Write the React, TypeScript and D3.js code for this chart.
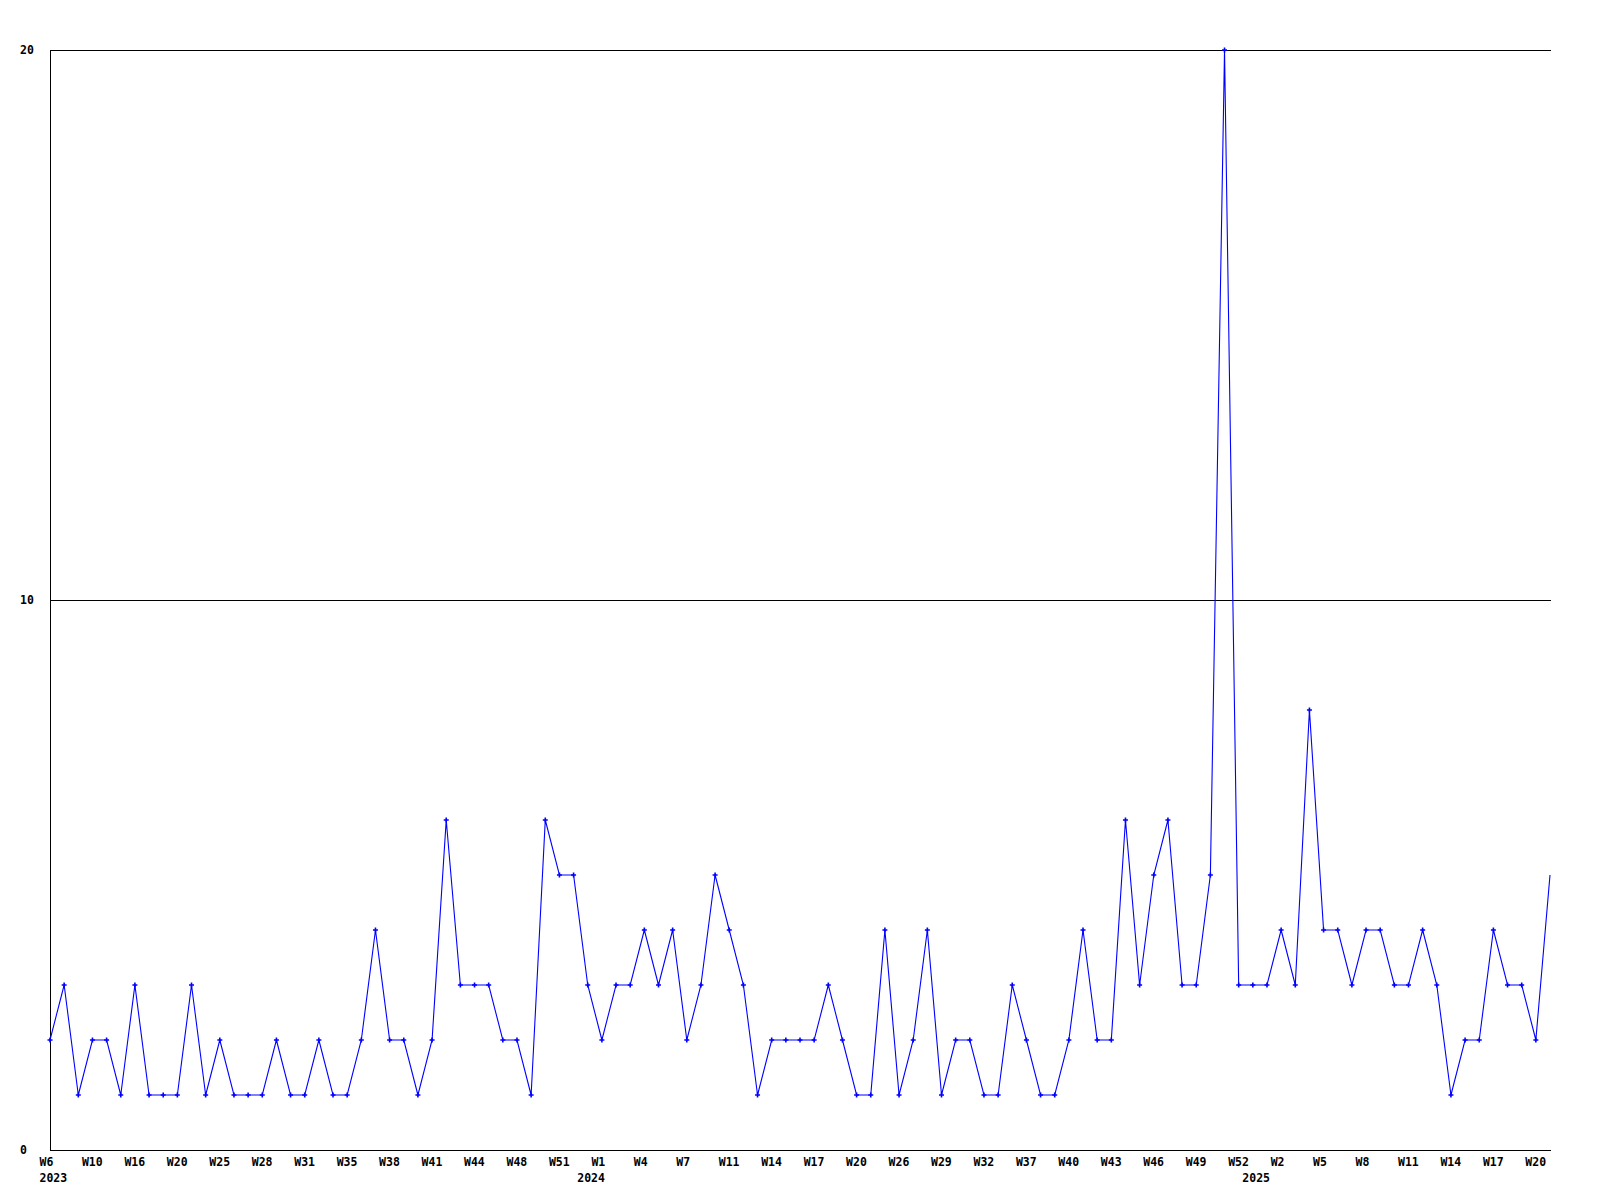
import React from "react";
import * as d3 from "d3";

const values: number[] = [
  2, 3, 1, 2, 2, 1, 3, 1, 1, 1,
  3, 1, 2, 1, 1, 1, 2, 1, 1, 2,
  1, 1, 2, 4, 2, 2, 1, 2, 6, 3,
  3, 3, 2, 2, 1, 6, 5, 5, 3, 2,
  3, 3, 4, 3, 4, 2, 3, 5, 4, 3,
  1, 2, 2, 2, 2, 3, 2, 1, 1, 4,
  1, 2, 4, 1, 2, 2, 1, 1, 3, 2,
  1, 1, 2, 4, 2, 2, 6, 3, 5, 6,
  3, 3, 5, 20, 3, 3, 3, 4, 3, 8,
  4, 4, 3, 4, 4, 3, 3, 4, 3, 1,
  2, 2, 4, 3, 3, 2, 5,
];

// week labels, one every 3 points
const weekLabels: string[] = [
  "W6", "W10", "W16", "W20", "W25", "W28", "W31", "W35", "W38", "W41",
  "W44", "W48", "W51", "W1", "W4", "W7", "W11", "W14", "W17", "W20",
  "W26", "W29", "W32", "W37", "W40", "W43", "W46", "W49", "W52", "W2",
  "W5", "W8", "W11", "W14", "W17", "W20",
];
const weekLabelStep = 3;

const yearLabels: string[] = ["2023", "2024", "2025"];
const yearLabelIndex: number[] = [0, 38, 85];

const yTicks: number[] = [0, 10, 20];

const FONT = "'DejaVu Sans Mono', 'Liberation Mono', monospace";

export default function App() {
  const left = 50;
  const right = 1550;
  const top = 50;
  const bottom = 1150;
  const x = d3.scaleLinear().domain([0, values.length - 1]).range([left, right]);
  const y = d3.scaleLinear().domain([0, 20]).range([bottom, top]);
  const line = d3
    .line<number>()
    .x((_, i) => x(i))
    .y((d) => y(d));

  return (
    <svg
      width={1600}
      height={1200}
      style={{ position: "absolute", left: 0, top: 0, background: "#fff" }}
    >
      <rect x={0} y={0} width={1600} height={1200} fill="#fff" />
      {/* grid lines */}
      {yTicks.map((t) => (
        <line
          key={"g" + t}
          x1={left}
          x2={right + 1}
          y1={Math.round(y(t)) + 0.5}
          y2={Math.round(y(t)) + 0.5}
          stroke="#000"
          strokeWidth={1}
          shapeRendering="crispEdges"
        />
      ))}
      <line
        x1={left + 0.5}
        x2={left + 0.5}
        y1={top}
        y2={bottom + 1}
        stroke="#000"
        strokeWidth={1}
        shapeRendering="crispEdges"
      />
      {/* y labels */}
      {yTicks.map((t) => (
        <text
          key={"yl" + t}
          x={20}
          y={y(t) + 4}
          fontFamily={FONT}
          fontWeight="bold"
          fontSize={11.5}
          fill="#000"
        >
          {t}
        </text>
      ))}
      {/* x labels */}
      {weekLabels.map((w, k) => (
        <text
          key={"xl" + k}
          x={x(k * weekLabelStep) - 10.5}
          y={1166}
          fontFamily={FONT}
          fontWeight="bold"
          fontSize={11.5}
          fill="#000"
        >
          {w}
        </text>
      ))}
      {yearLabels.map((yr, k) => (
        <text
          key={"yr" + k}
          x={x(yearLabelIndex[k]) - 10.5}
          y={1182}
          fontFamily={FONT}
          fontWeight="bold"
          fontSize={11.5}
          fill="#000"
        >
          {yr}
        </text>
      ))}
      {/* data line */}
      <path d={line(values) || ""} fill="none" stroke="#0000ff" strokeWidth={1.1} />
      {values.slice(0, values.length - 1).map((v, i) => (
        <path
          key={"m" + i}
          d={`M${x(i) - 2.5},${y(v)}h5M${x(i)},${y(v) - 2.5}v5`}
          stroke="#0000ff"
          strokeWidth={1.6}
          fill="none"
        />
      ))}
    </svg>
  );
}
